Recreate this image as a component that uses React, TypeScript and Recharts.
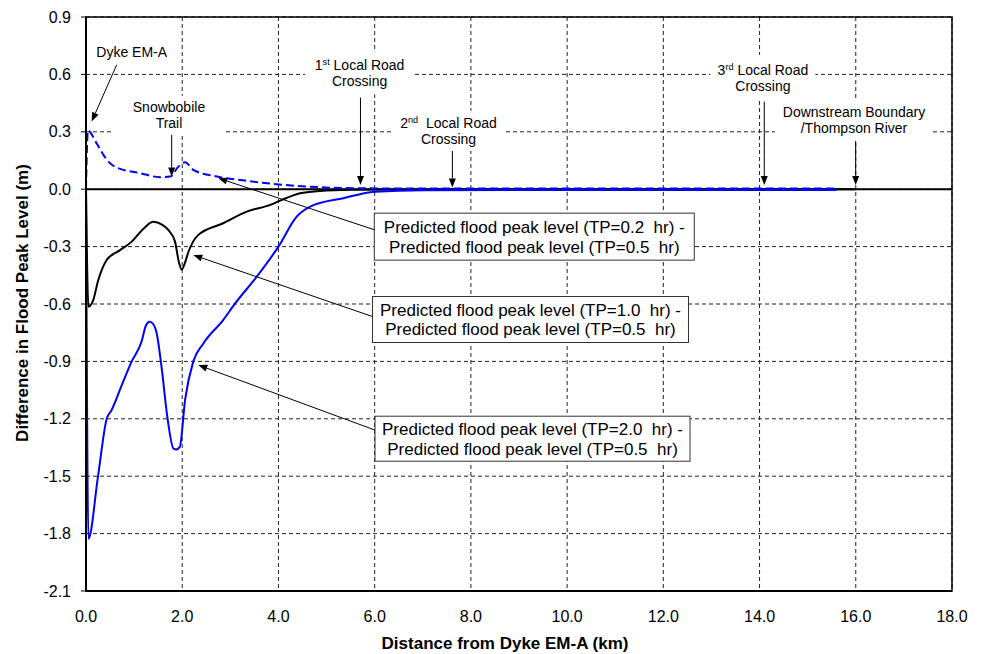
import {
  LineChart,
  Line,
  XAxis,
  YAxis,
  CartesianGrid,
  ReferenceLine,
  ReferenceArea,
  ReferenceDot,
  Label,
} from 'recharts';

const FONT = '"Liberation Sans", Arial, sans-serif';

// axis ticks
const xTicks = [0, 2, 4, 6, 8, 10, 12, 14, 16, 18];
const yTicks = [-2.1, -1.8, -1.5, -1.2, -0.9, -0.6, -0.3, 0, 0.3, 0.6, 0.9];

// TP=0.2 hr minus TP=0.5 hr (blue dashed)
const tp02Dist = [0, 0.04, 0.22, 0.4, 0.5, 0.6, 1.12, 1.54, 1.75, 1.92, 2.06, 2.23, 2.72, 3.3, 3.96, 4.6, 5.4, 6.5, 10, 15.6];
const tp02Diff = [0, 0.307, 0.24, 0.165, 0.136, 0.118, 0.084, 0.063, 0.066, 0.118, 0.141, 0.101, 0.066, 0.045, 0.026, 0.014, 0.006, 0.004, 0.004, 0.004];

// TP=1.0 hr minus TP=0.5 hr (black)
const tp10Dist = [0, 0.05, 0.15, 0.25, 0.43, 0.7, 0.95, 1.2, 1.4, 1.58, 1.71, 1.85, 1.93, 1.99, 2.05, 2.13, 2.33, 2.85, 3.34, 3.83, 4.07, 4.45, 4.86, 5.5, 7, 16];
const tp10Diff = [0, -0.614, -0.58, -0.48, -0.37, -0.32, -0.274, -0.205, -0.17, -0.185, -0.213, -0.274, -0.38, -0.42, -0.39, -0.327, -0.24, -0.178, -0.117, -0.082, -0.056, -0.021, -0.009, -0.003, -0.001, 0];

// TP=2.0 hr minus TP=0.5 hr (blue solid)
const tp20Dist = [0, 0.05, 0.25, 0.43, 0.53, 0.75, 0.95, 1.15, 1.25, 1.32, 1.38, 1.47, 1.58, 1.68, 1.82, 1.88, 1.95, 2.06, 2.23, 2.44, 2.85, 3.1, 3.55, 4.0, 4.38, 4.66, 5.35, 6.0, 7.0, 10, 15.6];
const tp20Diff = [0, -1.827, -1.5, -1.2, -1.155, -1.02, -0.9, -0.8, -0.71, -0.693, -0.7, -0.754, -0.95, -1.17, -1.356, -1.36, -1.347, -1.1, -0.9, -0.806, -0.684, -0.597, -0.457, -0.3, -0.143, -0.091, -0.047, -0.013, -0.005, -0.004, -0.004];

const toPoints = (xs: number[], ys: number[]) => xs.map((x, i) => ({ x, y: ys[i] }));

// location notes (text centre in chart units)
const notes = [
  { lines: ['Dyke EM-A'], x: 0.95, y: 0.718, w: 76, h: 20 },
  { lines: ['Snowbobile', 'Trail'], x: 1.725, y: 0.389, w: 110, h: 38 },
  { lines: ['1|st| Local Road', 'Crossing'], x: 5.687, y: 0.608, w: 109, h: 43 },
  { lines: ['2|nd|  Local Road', 'Crossing'], x: 7.535, y: 0.305, w: 111, h: 40 },
  { lines: ['3|rd| Local Road', 'Crossing'], x: 14.07, y: 0.582, w: 105, h: 46 },
  { lines: ['Downstream Boundary', '/Thompson River'], x: 15.963, y: 0.362, w: 158, h: 42 },
];

const boxes = [
  { lines: ['Predicted flood peak level (TP=0.2  hr) -', 'Predicted flood peak level (TP=0.5  hr)'], x: 9.318, y: -0.248, w: 320, h: 47 },
  { lines: ['Predicted flood peak level (TP=1.0  hr) -', 'Predicted flood peak level (TP=0.5  hr)'], x: 9.239, y: -0.681, w: 316, h: 46 },
  { lines: ['Predicted flood peak level (TP=2.0  hr) -', 'Predicted flood peak level (TP=0.5  hr)'], x: 9.281, y: -1.304, w: 315, h: 45 },
];

const arrows = [
  { from: [0.638, 0.65], to: [0.118, 0.354] },
  { from: [1.781, 0.284], to: [1.781, 0.066] },
  { from: [5.705, 0.479], to: [5.705, 0.0225] },
  { from: [7.615, 0.2], to: [7.615, 0.0084] },
  { from: [14.098, 0.458], to: [14.098, 0.0225] },
  { from: [15.998, 0.301], to: [15.998, 0.0225] },
  { from: [6.007, -0.213], to: [2.75, 0.0576] },
  { from: [5.972, -0.667], to: [2.23, -0.344] },
  { from: [6.007, -1.259], to: [2.334, -0.919] },
];

const renderLine = (text: string, x: number, y: number, size: number, key: number) => {
  const parts = text.split('|');
  return (
    <text key={key} x={x} y={y} dy="0.35em" textAnchor="middle" fontSize={size} fontFamily={FONT} fill="#000">
      {parts.length === 1 ? (
        text
      ) : (
        <>
          <tspan>{parts[0]}</tspan>
          <tspan dy={-5} fontSize={size * 0.65}>{parts[1]}</tspan>
          <tspan dy={5} style={{ whiteSpace: 'pre' }}>{parts[2]}</tspan>
        </>
      )}
    </text>
  );
};

const arrowShape = (p: any) => {
  const { x1, y1, x2, y2 } = p;
  const a = Math.atan2(y2 - y1, x2 - x1);
  const L = 9;
  const W = 3.5;
  const bx = x2 - L * Math.cos(a);
  const by = y2 - L * Math.sin(a);
  const pts = [
    `${x2},${y2}`,
    `${bx + W * Math.sin(a)},${by - W * Math.cos(a)}`,
    `${bx - W * Math.sin(a)},${by + W * Math.cos(a)}`,
  ].join(' ');
  return (
    <g>
      <line x1={x1} y1={y1} x2={bx} y2={by} stroke="#000" strokeWidth={1} />
      <polygon points={pts} fill="#000" />
    </g>
  );
};

export default function App() {
  return (
    <div style={{ position: 'absolute', left: 0, top: 0, background: '#fff' }}>
      <LineChart width={984} height={654} margin={{ top: 17, right: 32, left: 0, bottom: 0 }}>
        <CartesianGrid stroke="#222" strokeDasharray="4 3" strokeWidth={1} />
        <XAxis
          dataKey="x"
          type="number"
          domain={[0, 18]}
          ticks={xTicks}
          tickFormatter={(v: number) => v.toFixed(1)}
          allowDataOverflow
          height={63}
          tickLine={false}
          tickSize={5}
          tickMargin={15}
          axisLine={{ stroke: '#000', strokeWidth: 2 }}
          tick={{ fontSize: 16, fill: '#000', fontFamily: FONT }}
        >
          <Label
            content={() => (
              <text x={505} y={649} textAnchor="middle" fontSize={17} fontWeight="bold" fontFamily={FONT} fill="#000">
                Distance from Dyke EM-A (km)
              </text>
            )}
          />
        </XAxis>
        <YAxis
          type="number"
          domain={[-2.1, 0.9]}
          ticks={yTicks}
          tickFormatter={(v: number) => v.toFixed(1)}
          allowDataOverflow
          width={86}
          tickSize={5}
          tickMargin={10}
          axisLine={{ stroke: '#000', strokeWidth: 2 }}
          tickLine={{ stroke: '#000' }}
          tick={{ fontSize: 16, fill: '#000', fontFamily: FONT }}
        >
          <Label
            content={() => (
              <text
                x={22}
                y={303}
                transform="rotate(-90 22 303)"
                dy="0.35em"
                textAnchor="middle"
                fontSize={17}
                fontWeight="bold"
                fontFamily={FONT}
                fill="#000"
              >
                Difference in Flood Peak Level (m)
              </text>
            )}
          />
        </YAxis>

        <ReferenceArea x1={0} x2={18} y1={-2.1} y2={0.9} fill="none" stroke="#000" strokeWidth={1.5} />
        <ReferenceLine y={0} stroke="#000" strokeWidth={2} />

        <Line data={toPoints(tp10Dist, tp10Diff)} dataKey="y" type="monotone" stroke="#000" strokeWidth={2} dot={false} isAnimationActive={false} />
        <Line data={toPoints(tp20Dist, tp20Diff)} dataKey="y" type="monotone" stroke="#0000ff" strokeWidth={2} dot={false} isAnimationActive={false} />
        <Line data={toPoints(tp02Dist, tp02Diff)} dataKey="y" type="monotone" stroke="#0000ff" strokeWidth={2} strokeDasharray="8 4" dot={false} isAnimationActive={false} />

        {notes.map((n, i) => (
          <ReferenceDot
            key={`n${i}`}
            x={n.x}
            y={n.y}
            r={1}
            shape={(p: any) => (
              <g>
                <rect x={p.cx - n.w / 2} y={p.cy - n.h / 2} width={n.w} height={n.h} fill="#fff" />
                {n.lines.map((t, j) => renderLine(t, p.cx, p.cy + (n.lines.length === 1 ? 0 : j === 0 ? -8 : 8), 14, j))}
              </g>
            )}
          />
        ))}

        {boxes.map((b, i) => (
          <ReferenceDot
            key={`b${i}`}
            x={b.x}
            y={b.y}
            r={1}
            shape={(p: any) => (
              <g>
                <rect x={p.cx - b.w / 2} y={p.cy - b.h / 2} width={b.w} height={b.h} fill="#fff" stroke="#333" strokeWidth={1} />
                {b.lines.map((t, j) => (
                  <text
                    key={j}
                    x={p.cx}
                    y={p.cy + (j === 0 ? -9.5 : 10)}
                    dy="0.35em"
                    textAnchor="middle"
                    fontSize={17}
                    fontFamily={FONT}
                    fill="#000"
                    style={{ whiteSpace: 'pre' }}
                  >
                    {t}
                  </text>
                ))}
              </g>
            )}
          />
        ))}

        {arrows.map((a, i) => (
          <ReferenceLine
            key={`a${i}`}
            segment={[{ x: a.from[0], y: a.from[1] }, { x: a.to[0], y: a.to[1] }]}
            shape={arrowShape}
          />
        ))}
      </LineChart>
    </div>
  );
}
